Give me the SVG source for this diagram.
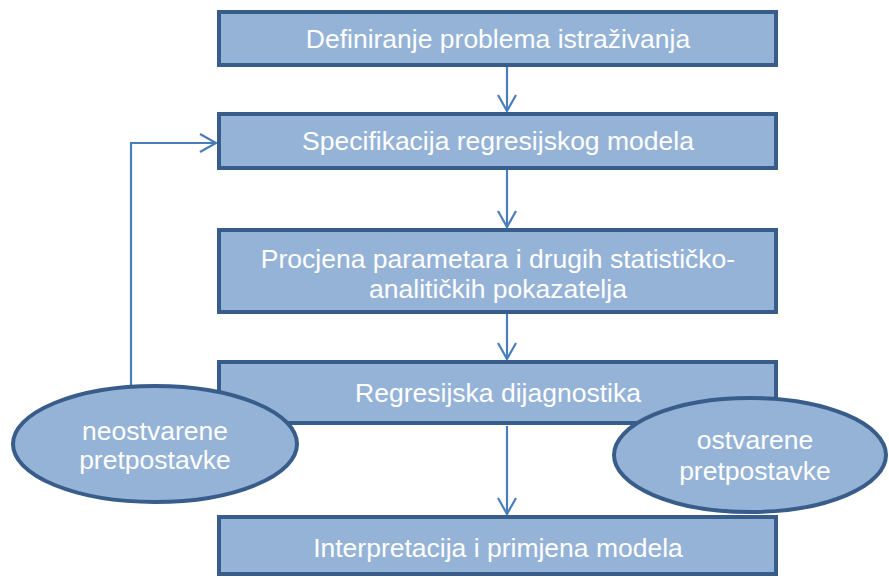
<svg xmlns="http://www.w3.org/2000/svg" width="889" height="578" viewBox="0 0 889 578">
<defs>
<style>
.box{fill:#95B3D7;stroke:#385D8A;stroke-width:4}
.t{fill:#FFFFFF;font-family:"Liberation Sans",Arial,sans-serif;font-size:26.5px;text-anchor:middle}
.c{fill:none;stroke:#4A7EBB;stroke-width:2.2}
</style>
<marker id="ah" markerWidth="24" markerHeight="24" refX="17" refY="10" orient="auto" markerUnits="userSpaceOnUse">
<path d="M1,1 L17,10 L1,19" fill="none" stroke="#4A7EBB" stroke-width="2.2"/>
</marker>
</defs>
<g id="connectors">
<line class="c" x1="507" y1="67" x2="507" y2="111" marker-end="url(#ah)"/>
<line class="c" x1="507" y1="170" x2="507" y2="227" marker-end="url(#ah)"/>
<line class="c" x1="507" y1="314" x2="507" y2="359" marker-end="url(#ah)"/>
<line class="c" x1="507" y1="426" x2="507" y2="514" marker-end="url(#ah)"/>
<polyline class="c" points="131,387 131,143 216,143" marker-end="url(#ah)"/>
</g>
<g id="n1"><rect class="box" x="219" y="12" width="557" height="53"/><text class="t" x="498" y="48">Definiranje problema istraživanja</text></g>
<g id="n2"><rect class="box" x="219" y="114" width="557" height="54"/><text class="t" x="498" y="150">Specifikacija regresijskog modela</text></g>
<g id="n3"><rect class="box" x="219" y="230" width="557" height="82"/><text class="t" x="498" y="268">Procjena parametara i drugih statističko-</text><text class="t" x="498" y="298">analitičkih pokazatelja</text></g>
<g id="n4"><rect class="box" x="219" y="362" width="557" height="61"/><text class="t" x="498" y="402">Regresijska dijagnostika</text></g>
<g id="n5"><rect class="box" x="219" y="517" width="557" height="57"/><text class="t" x="498" y="557">Interpretacija i primjena modela</text></g>
<g id="e1"><ellipse class="box" cx="155" cy="444" rx="142" ry="58"/><text class="t" x="155" y="440">neostvarene</text><text class="t" x="155" y="469">pretpostavke</text></g>
<g id="e2"><ellipse class="box" cx="750" cy="455" rx="136" ry="57"/><text class="t" x="755" y="449">ostvarene</text><text class="t" x="755" y="480">pretpostavke</text></g>
</svg>
